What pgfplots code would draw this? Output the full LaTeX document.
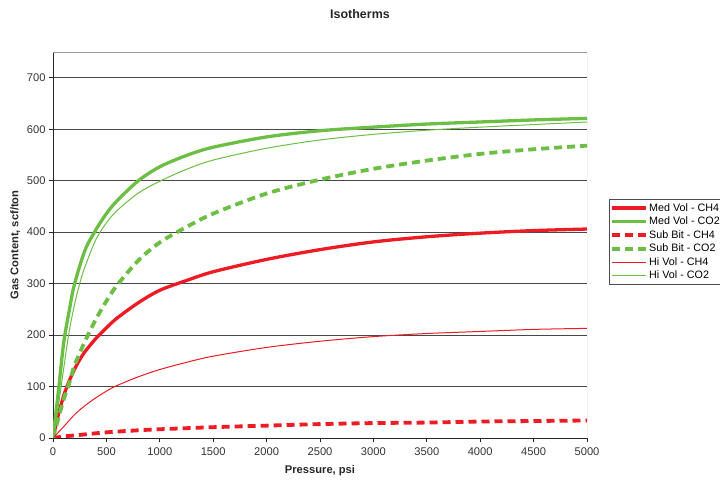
\documentclass[border=0pt]{standalone}
\usepackage{pgfplots}
\pgfplotsset{compat=1.18}
\usepackage{fontspec}
\setmainfont{Liberation Sans}
\definecolor{cred}{RGB}{237,28,36}
\definecolor{cgreen}{RGB}{108,190,69}
\begin{document}
\begin{tikzpicture}[x=1bp,y=1bp]
\useasboundingbox (0,0) rectangle (720,480);
\begin{axis}[at={(53bp,42bp)}, anchor=south west, scale only axis, width=534bp, height=386bp,
 xmin=0, xmax=5000, ymin=0, ymax=750,
 xtick={0,500,...,5000}, ytick={0,100,...,700},
 ymajorgrids, grid style={line width=0.9bp, color=black!72},
 axis x line*=bottom, axis y line*=left, axis line style={line width=0.9bp, black!85, -},
 tick align=outside, major tick length=4bp, tick style={line width=0.8bp, black!85},
 ticklabel style={font=\fontsize{11.2}{13}\selectfont, color=black!80},
 xticklabel style={yshift=-2bp},
 /pgf/number format/assume math mode=true, /pgf/number format/1000 sep={},
 xlabel={Pressure, psi}, ylabel={Gas Content, scf/ton},
 label style={font=\bfseries\fontsize{11.2}{13}\selectfont, black!85},
 xlabel style={yshift=-3bp},
 legend style={at={(1,0.508)}, anchor=west, xshift=22bp, draw=black!70, line width=0.8bp,
   font=\fontsize{10.8}{12.8}\selectfont, inner xsep=1bp, inner ysep=2bp, row sep=0.3bp,
   cells={anchor=west}, nodes={inner xsep=1bp}},
 legend image code/.code={\draw[#1] (0bp,0bp) -- (34bp,0bp);},
]
\draw[black!40, line width=0.9bp] (rel axis cs:0,1) -- (rel axis cs:1,1) -- (rel axis cs:1,0);
% Med Vol - CH4
\addplot[cred, line width=3.3bp, smooth] coordinates {
(0,0) (50,45) (100,82) (150,110) (200,133) (250,152) (300,168) (400,193) (500,214) (600,233)
(800,263) (1000,287) (1250,306) (1500,323) (2000,347) (2500,366) (3000,381) (3500,391)
(4000,398) (4500,403) (5000,406)};
\addlegendentry{Med Vol - CH4}
% Med Vol - CO2
\addplot[cgreen, line width=3.3bp, smooth] coordinates {
(0,0) (50,90) (100,185) (150,245) (200,298) (300,365) (400,404) (500,436) (600,461)
(800,500) (1000,527) (1250,549) (1500,565) (2000,585) (2500,597) (3000,604) (3500,610)
(4000,614) (4500,618) (5000,621)};
\addlegendentry{Med Vol - CO2}
% Sub Bit - CH4
\addplot[cred, line width=3.8bp, dash pattern=on 8bp off 5bp, smooth] coordinates {
(0,0) (100,3) (200,5) (300,7) (500,11) (800,15) (1000,17) (1500,21) (2000,24) (2500,27)
(3000,29) (3500,30) (4000,32) (4500,33) (5000,34)};
\addlegendentry{Sub Bit - CH4}
% Sub Bit - CO2
\addplot[cgreen, line width=3.8bp, dash pattern=on 8bp off 5bp, smooth] coordinates {
(0,0) (50,38) (100,75) (150,105) (200,140) (300,188) (400,230) (500,266) (600,297)
(800,345) (1000,380) (1250,410) (1500,436) (2000,475) (2500,502) (3000,523) (3500,539)
(4000,552) (4500,561) (5000,568)};
\addlegendentry{Sub Bit - CO2}
% Hi Vol - CH4
\addplot[cred, line width=1bp, smooth] coordinates {
(0,0) (100,22) (200,45) (300,63) (400,78) (500,91) (600,102) (800,119) (1000,133)
(1250,147) (1500,159) (2000,176) (2500,188) (3000,197) (3500,203) (4000,207) (4500,211) (5000,213)};
\addlegendentry{Hi Vol - CH4}
% Hi Vol - CO2
\addplot[cgreen, line width=1bp, smooth] coordinates {
(0,0) (50,62) (100,135) (150,205) (200,258) (250,300) (300,333) (400,385) (500,418) (600,442)
(800,476) (1000,499) (1250,522) (1500,540) (2000,563) (2500,579) (3000,590) (3500,598)
(4000,604) (4500,609) (5000,614)};
\addlegendentry{Hi Vol - CO2}
\end{axis}
\node[font=\bfseries\fontsize{12.5}{14}\selectfont, black!85] at (360,466) {Isotherms};
\end{tikzpicture}
\end{document}
